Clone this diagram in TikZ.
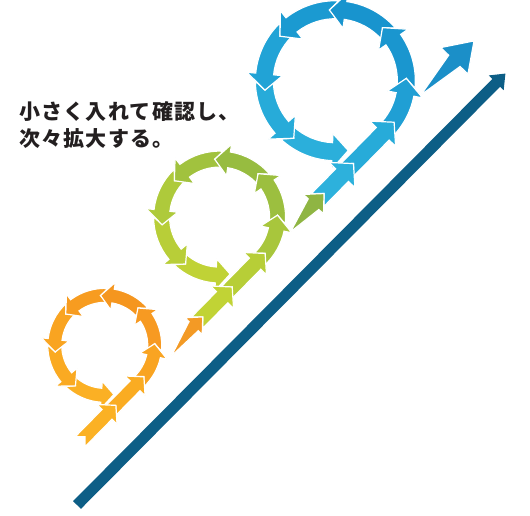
\documentclass[tikz,border=0pt]{standalone}
\usepackage{fontspec}
\newfontfamily\cjk{Noto Sans CJK JP}[LetterSpace=6]
\usetikzlibrary{calc}
\definecolor{darkl}{HTML}{0D5E86}
\definecolor{txt}{HTML}{231F20}
% orange
\definecolor{os1}{HTML}{FBB124}\definecolor{os2}{HTML}{FAAC22}
\definecolor{oa1}{HTML}{F9A422}\definecolor{oa2}{HTML}{F79A22}\definecolor{oa3}{HTML}{F5961F}
\definecolor{oa4}{HTML}{F79C20}\definecolor{oa5}{HTML}{F9A421}\definecolor{oa6}{HTML}{FAAA22}
\definecolor{oa7}{HTML}{FBB024}\definecolor{ot}{HTML}{F39A25}
% green
\definecolor{gs1}{HTML}{C1D335}\definecolor{gs2}{HTML}{B7CE37}
\definecolor{ga1}{HTML}{A8C63C}\definecolor{ga2}{HTML}{9CBF3F}\definecolor{ga3}{HTML}{97BC40}
\definecolor{ga4}{HTML}{A1C23E}\definecolor{ga5}{HTML}{AECA3B}\definecolor{ga6}{HTML}{B8CE38}
\definecolor{ga7}{HTML}{C0D236}\definecolor{gt}{HTML}{8FB543}
% blue
\definecolor{bs1}{HTML}{2DB1DC}\definecolor{bs2}{HTML}{27ABD9}
\definecolor{ba1}{HTML}{209FD4}\definecolor{ba2}{HTML}{1A96CF}\definecolor{ba3}{HTML}{1894CE}
\definecolor{ba4}{HTML}{1B9AD1}\definecolor{ba5}{HTML}{21A3D6}\definecolor{ba6}{HTML}{27ABD9}
\definecolor{ba7}{HTML}{2BAFDB}\definecolor{bt}{HTML}{1B8FC8}
\tikzset{seg/.style={draw=white, line width=1.2pt, line join=miter}}
% curved arrow: cx cy r a1 a2 w color  (notch point at a1, tip at a2)
\newcommand\ArcArr[7]{%
 \pgfmathsetmacro\Ro{#3+#6/2}%
 \pgfmathsetmacro\Ri{#3-#6/2}%
 \pgfmathsetmacro\Rp{#3+#6*1.0}%
 \pgfmathsetmacro\Rm{#3-#6*1.0}%
 \pgfmathsetmacro\B{#5-#6*0.9*57.2958/#3}%
 \pgfmathsetmacro\T{#4-#6*0.5*57.2958/#3}%
 \fill[seg, fill=#7] ($(#1,#2)+(\T:\Ro)$) arc[start angle=\T, end angle=\B, radius=\Ro]
   -- ($(#1,#2)+(\B:\Rp)$) -- ($(#1,#2)+(#5:#3)$) -- ($(#1,#2)+(\B:\Rm)$) -- ($(#1,#2)+(\B:\Ri)$)
   arc[start angle=\B, end angle=\T, radius=\Ri] -- ($(#1,#2)+(#4:#3)$) -- cycle;
}
% straight arrow along local x: s1 (notch point) s2 (tip) w color
\newcommand\StrArr[4]{%
 \pgfmathsetmacro\hw{#3*1.0}\pgfmathsetmacro\hh{#3/2}%
 \pgfmathsetmacro\hb{#2-#3*0.9}\pgfmathsetmacro\tt{#1-#3*0.5}%
 \fill[seg, fill=#4] (\tt,\hh) -- (\hb,\hh) -- (\hb,\hw) -- (#2,0) -- (\hb,-\hw) -- (\hb,-\hh) -- (\tt,-\hh) -- (#1,0) -- cycle;
}
% wedge arrow: s1 p1 s2 halfshaft halfhead headlen color
\newcommand\WedgeArr[7]{%
 \pgfmathsetmacro\hb{#3-#6}%
 \fill[seg, fill=#7] (#1,#2) -- (\hb,#4) -- (\hb,#5) -- (#3,0) -- (\hb,-#5) -- (\hb,-#4) -- cycle;
}
\begin{document}
\begin{tikzpicture}[x=1pt,y=1pt]
\useasboundingbox (0,0) rectangle (530,516);
\fill[white] (0,0) rectangle (530,516);
% dark baseline arrow
\begin{scope}[shift={(77,11)}, rotate=45.2]
 \fill[darkl] (0,5.5) -- (595,5.5) -- (595,10.5) -- (608,0) -- (595,-10.5) -- (595,-5.5) -- (0,-5.5) -- cycle;
\end{scope}
% coloured chain, local frame along the diagonal
\begin{scope}[shift={(140.4,135.6)}, rotate=45.5]
 % blue loop
 \WedgeArr{400}{0}{476}{8}{19}{28}{bt}
 \foreach \a/\b/\c in {188.6/235/ba7, 142.1/188.6/ba6, 95.7/142.1/ba5, 49.3/95.7/ba4, 2.9/49.3/ba3, -43.6/2.9/ba2, -84/-43.6/ba1}
   {\ArcArr{350.4}{71}{71}{\a}{\b}{18}{\c}}
 \StrArr{304}{362}{18}{bs2}
 \StrArr{262}{304}{18}{bs1}
 % green loop
 \WedgeArr{211}{-3}{262}{7.5}{14}{15}{gt}
 \foreach \a/\b/\c in {188.6/235/ga7, 142.1/188.6/ga6, 95.7/142.1/ga5, 49.3/95.7/ga4, 2.9/49.3/ga3, -43.6/2.9/ga2, -84/-43.6/ga1}
   {\ArcArr{172}{58}{58}{\a}{\b}{16}{\c}}
 \StrArr{131}{178}{16}{gs2}
 \StrArr{89}{131}{16}{gs1}
 % orange loop
 \WedgeArr{39}{-5}{89}{6.5}{12}{13}{ot}
 \foreach \a/\b/\c in {188.6/235/oa7, 142.1/188.6/oa6, 95.7/142.1/oa5, 49.3/95.7/oa4, 2.9/49.3/oa3, -43.6/2.9/oa2, -84/-43.6/oa1}
   {\ArcArr{0}{50}{50}{\a}{\b}{14}{\c}}
 \StrArr{-35}{5}{14}{os2}
 \StrArr{-79}{-35}{14}{os1}
\end{scope}
% text
\node[anchor=base west, inner sep=0, text=txt, font=\cjk\bfseries\fontsize{21}{21}\selectfont] (t1) at (19,396.5) {小さく入れて確認し、};
\node[anchor=base west, inner sep=0, text=txt, font=\cjk\bfseries\fontsize{21}{21}\selectfont] (t2) at (19,369.5) {次々拡大する。};
\end{tikzpicture}
\end{document}
